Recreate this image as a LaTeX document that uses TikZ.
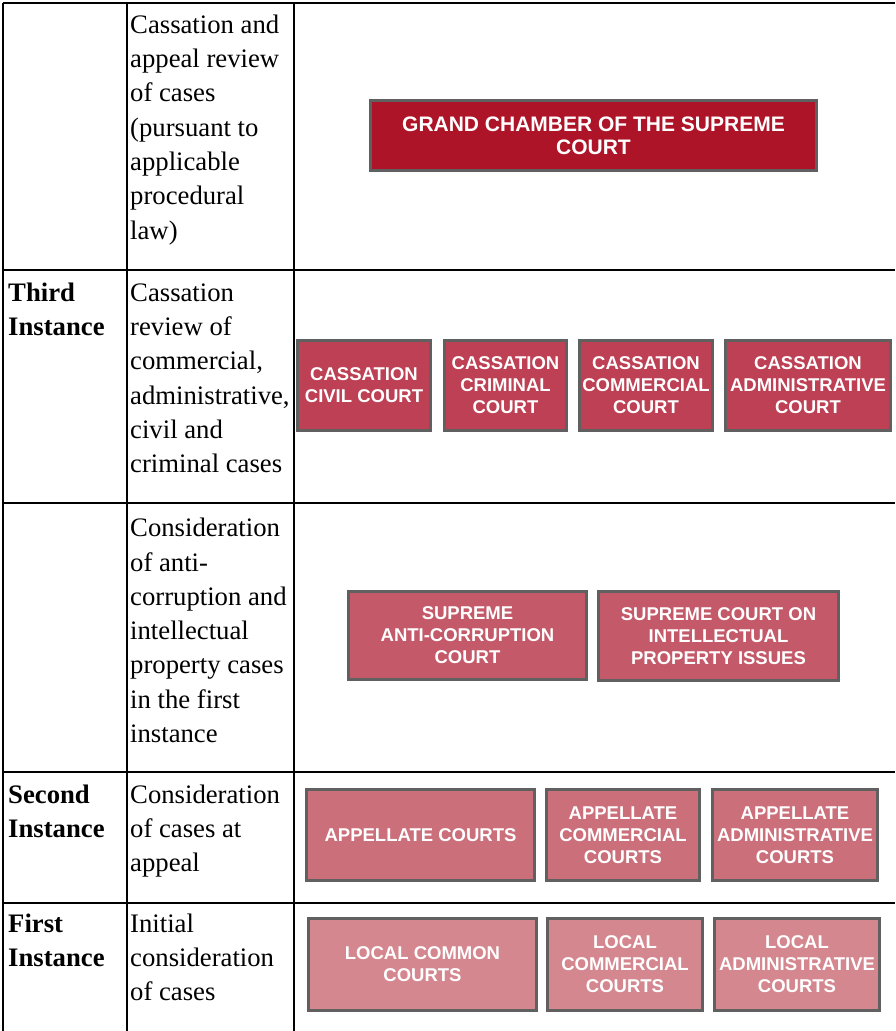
\documentclass[tikz,border=0pt]{standalone}
\usepackage{fontspec}
\setmainfont{Liberation Serif}
\setsansfont{Liberation Sans}

\definecolor{grandred}{HTML}{AE1428}
\definecolor{cassred}{HTML}{BD4054}
\definecolor{supred}{HTML}{C45A69}
\definecolor{appred}{HTML}{CB6F7B}
\definecolor{localred}{HTML}{D4878F}
\definecolor{boxgray}{HTML}{606060}

\tikzset{
  grid/.style={draw=black, line width=2.3pt},
  court/.style={draw=boxgray, line width=2.6pt, text=white, align=center,
    inner sep=0pt, font=\sffamily\bfseries\fontsize{18.5pt}{22pt}\selectfont},
  desc/.style={anchor=north west, inner sep=0pt, align=left,
    font=\fontsize{26.7pt}{34.3pt}\selectfont},
  head/.style={desc, font=\bfseries\fontsize{26.7pt}{34.3pt}\selectfont},
}

\begin{document}
\begin{tikzpicture}[x=1pt, y=-1pt]
\useasboundingbox (0,0) rectangle (895,1031);

% table rules
\draw[grid] (3,3) -- (895,3);
\draw[grid] (3,270) -- (895,270);
\draw[grid] (3,503) -- (895,503);
\draw[grid] (3,772) -- (895,772);
\draw[grid] (3,903) -- (895,903);
\draw[grid] (3,3) -- (3,1031);
\draw[grid] (127,3) -- (127,1031);
\draw[grid] (294,3) -- (294,1031);

% row texts
\node[desc] (r1desc) at (130,9) {\strut Cassation and\\appeal review\\of cases\\(pursuant to\\applicable\\procedural\\law)};

\node[head] (r2head) at (8,277) {\strut Third\\Instance};
\node[desc] (r2desc) at (130,277) {\strut Cassation\\review of\\commercial,\\administrative,\\civil and\\criminal cases};

\node[desc] (r3desc) at (130,512.5) {\strut Consideration\\of anti-\\corruption and\\intellectual\\property cases\\in the first\\instance};

\node[head] (r4head) at (8,779) {\strut Second\\Instance};
\node[desc] (r4desc) at (130,779) {\strut Consideration\\of cases at\\appeal};

\node[head] (r5head) at (8,908) {\strut First\\Instance};
\node[desc] (r5desc) at (130,908) {\strut Initial\\consideration\\of cases};

% courts
\node[court, fill=grandred, font=\sffamily\bfseries\fontsize{21pt}{23pt}\selectfont,
  minimum width=446.4pt, minimum height=70.4pt] (grand) at (593.5,135.5)
  {GRAND CHAMBER OF THE SUPREME\\COURT};

\node[court, fill=cassred, minimum width=133.4pt, minimum height=90.4pt] (cciv) at (364,385.5)
  {CASSATION\\CIVIL COURT};
\node[court, fill=cassred, minimum width=122.4pt, minimum height=90.4pt] (ccrim) at (505.5,385.5)
  {CASSATION\\CRIMINAL\\COURT};
\node[court, fill=cassred, minimum width=133.4pt, minimum height=90.4pt] (ccom) at (646,385.5)
  {CASSATION\\COMMERCIAL\\COURT};
\node[court, fill=cassred, minimum width=165.4pt, minimum height=90.4pt] (cadm) at (808,385.5)
  {CASSATION\\ADMINISTRATIVE\\COURT};

\node[court, fill=supred, minimum width=238.4pt, minimum height=88.4pt] (santi) at (467.5,635.5)
  {SUPREME\\ANTI-CORRUPTION\\COURT};
\node[court, fill=supred, minimum width=240.4pt, minimum height=89.4pt] (sip) at (718.5,636)
  {SUPREME COURT ON\\INTELLECTUAL\\PROPERTY ISSUES};

\node[court, fill=appred, minimum width=228.4pt, minimum height=91.4pt] (app) at (420.5,835)
  {APPELLATE COURTS};
\node[court, fill=appred, minimum width=153.4pt, minimum height=91.4pt] (appcom) at (623,835)
  {APPELLATE\\COMMERCIAL\\COURTS};
\node[court, fill=appred, minimum width=165.4pt, minimum height=91.4pt] (appadm) at (795,835)
  {APPELLATE\\ADMINISTRATIVE\\COURTS};

\node[court, fill=localred, minimum width=228.4pt, minimum height=92.4pt] (loc) at (422.5,964.5)
  {LOCAL COMMON\\COURTS};
\node[court, fill=localred, minimum width=155.4pt, minimum height=92.4pt] (loccom) at (625,964.5)
  {LOCAL\\COMMERCIAL\\COURTS};
\node[court, fill=localred, minimum width=165.4pt, minimum height=92.4pt] (locadm) at (797,964.5)
  {LOCAL\\ADMINISTRATIVE\\COURTS};
\end{tikzpicture}
\end{document}
